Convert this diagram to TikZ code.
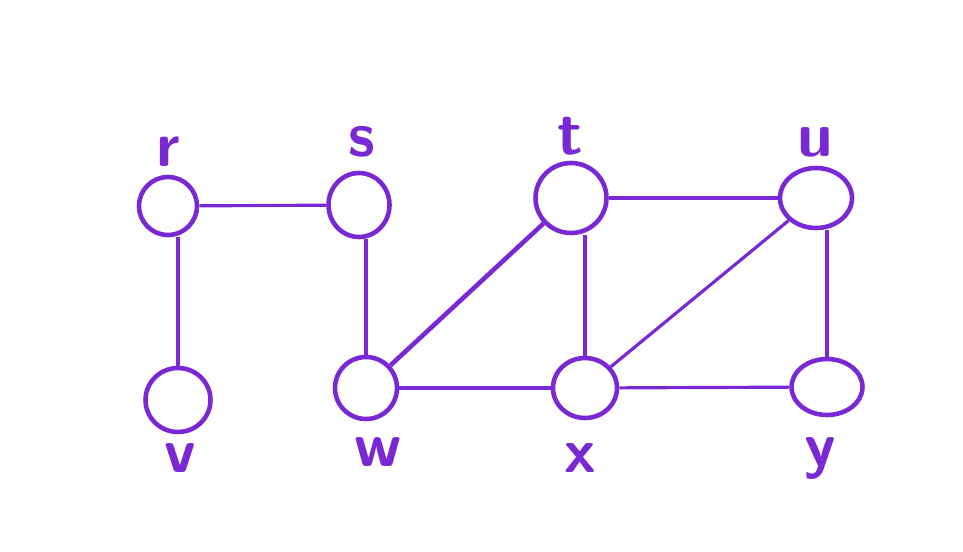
\documentclass[tikz,border=0pt]{standalone}
\usepackage{tikz}
\usetikzlibrary{shapes.geometric}
\definecolor{vio}{RGB}{122,40,212}

\begin{document}
\begin{tikzpicture}[x=0.02cm, y=-0.02cm,
  vtx/.style={draw=vio, ellipse, line width=2.6pt, inner sep=0pt},
  lbl/.style={text=vio, font=\sffamily\bfseries\fontsize{36}{40}\selectfont, inner sep=0pt},
  edge/.style={draw=vio, line width=1.8pt},
  thick edge/.style={edge, line width=2.6pt}]
  \useasboundingbox (0,0) rectangle (963,551);
  % vertices
  \node[vtx, minimum width=1.16cm, minimum height=1.16cm] (r) at (168,206) {};
  \node[vtx, minimum width=1.22cm, minimum height=1.28cm] (s) at (359,205) {};
  \node[vtx, minimum width=1.42cm, minimum height=1.40cm] (t) at (571,198) {};
  \node[vtx, minimum width=1.44cm, minimum height=1.20cm] (u) at (816,198) {};
  \node[vtx, minimum width=1.30cm, minimum height=1.28cm] (v) at (178,400) {};
  \node[vtx, minimum width=1.24cm, minimum height=1.24cm] (w) at (366,388) {};
  \node[vtx, minimum width=1.28cm, minimum height=1.20cm] (x) at (585,388) {};
  \node[vtx, minimum width=1.42cm, minimum height=1.12cm] (y) at (827,387) {};
  % labels
  \node[lbl] (rl) at (168,152) {r};
  \node[lbl] (sl) at (362,142) {s};
  \node[lbl] (tl) at (570,136) {t};
  \node[lbl] (ul) at (815,142) {u};
  \node[lbl] (vl) at (180,458) {v};
  \node[lbl] (wl) at (378,452) {w};
  \node[lbl] (xl) at (580,458) {x};
  \node[lbl] (yl) at (820,458) {y};
  % edges
  \draw[edge] (r) -- (s);
  \draw[thick edge] (v.north) -- (v.north |- r.south);
  \draw[edge] (w.north) -- (w.north |- s.south);
  \draw[thick edge] (w) -- (t);
  \draw[edge] (w) -- (x);
  \draw[edge] (x.north) -- (x.north |- t.south);
  \draw[edge] (t) -- (u);
  \draw[edge] (u) -- (x);
  \draw[edge] (y.north) -- (y.north |- u.south);
  \draw[edge] (x) -- (y);
\end{tikzpicture}
\end{document}
